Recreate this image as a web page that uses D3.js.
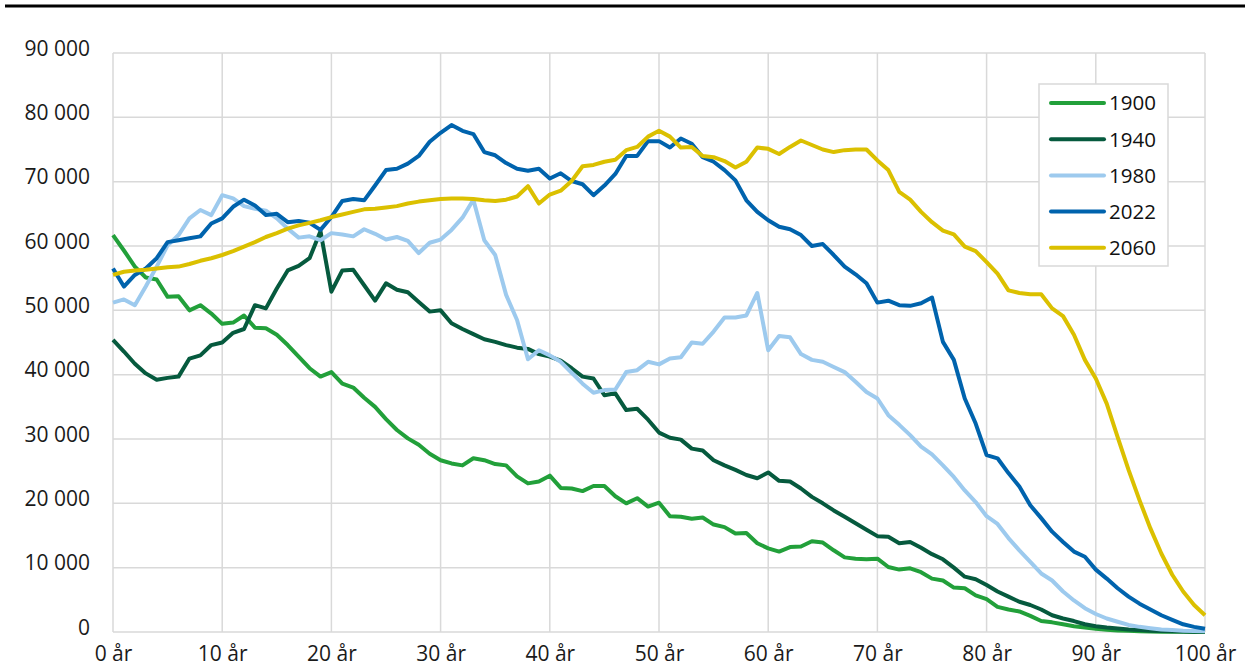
<!DOCTYPE html>
<html>
<head>
<meta charset="utf-8">
<script src="https://cdn.jsdelivr.net/npm/d3@7"></script>
<style>
  body { margin: 0; background: #fff; }
  svg { display: block; font-family: "Open Sans", "Noto Sans", sans-serif; }
</style>
</head>
<body>
<svg width="1250" height="672"></svg>
<script>
// ages 0..100, population in persons
var ages = d3.range(0, 101);
var years = ["1900", "1940", "1980", "2022", "2060"];
var colors = ["#22a03a", "#065a3e", "#9dcaee", "#0063ad", "#dbc000"];

var pop1900 = [61.7, 59.3, 56.8, 55.1, 54.8, 52.1, 52.2, 50.0, 50.8, 49.5,
    47.9, 48.1, 49.2, 47.3, 47.2, 46.2, 44.6, 42.8, 41.0, 39.7,
    40.4, 38.6, 38.0, 36.4, 35.0, 33.1, 31.4, 30.1, 29.1, 27.7,
    26.7, 26.2, 25.9, 27.0, 26.7, 26.1, 25.9, 24.2, 23.1, 23.4,
    24.3, 22.4, 22.3, 21.9, 22.7, 22.7, 21.1, 20.0, 20.8, 19.5,
    20.1, 18.0, 17.9, 17.6, 17.8, 16.7, 16.3, 15.3, 15.4, 13.8,
    13.0, 12.5, 13.2, 13.3, 14.1, 13.9, 12.7, 11.6, 11.4, 11.3,
    11.4, 10.1, 9.7, 9.9, 9.3, 8.3, 8.0, 6.9, 6.8, 5.7,
    5.1, 3.9, 3.5, 3.2, 2.5, 1.7, 1.5, 1.2, 0.9, 0.7,
    0.5, 0.35, 0.25, 0.18, 0.12, 0.08, 0.05, 0.03, 0.02, 0.01, 0.01];

var pop1940 = [45.4, 43.6, 41.7, 40.2, 39.2, 39.5, 39.7, 42.5, 43.0, 44.6,
    45.0, 46.5, 47.1, 50.8, 50.3, 53.4, 56.2, 56.9, 58.1, 62.3,
    52.9, 56.2, 56.3, 53.9, 51.5, 54.2, 53.2, 52.8, 51.3, 49.8,
    50.0, 48.0, 47.1, 46.3, 45.5, 45.1, 44.6, 44.2, 44.0, 43.2,
    42.8, 42.2, 41.0, 39.7, 39.4, 36.8, 37.1, 34.5, 34.7, 33.0,
    31.0, 30.2, 29.9, 28.5, 28.2, 26.7, 25.9, 25.2, 24.4, 23.9,
    24.8, 23.5, 23.4, 22.3, 21.0, 20.0, 18.9, 17.9, 16.9, 15.9,
    14.9, 14.8, 13.8, 14.0, 13.1, 12.1, 11.3, 10.0, 8.6, 8.2,
    7.3, 6.3, 5.5, 4.7, 4.2, 3.5, 2.6, 2.1, 1.7, 1.2,
    0.9, 0.7, 0.55, 0.4, 0.3, 0.2, 0.15, 0.1, 0.06, 0.04, 0.02];

var pop1980 = [51.2, 51.7, 50.8, 53.7, 56.8, 60.1, 61.7, 64.3, 65.6, 64.8,
    67.9, 67.4, 66.2, 65.8, 65.5, 64.3, 62.7, 61.3, 61.5, 60.9,
    62.0, 61.8, 61.5, 62.6, 61.9, 61.0, 61.4, 60.8, 58.9, 60.5,
    61.0, 62.5, 64.4, 67.2, 60.9, 58.6, 52.4, 48.5, 42.4, 43.8,
    43.0, 42.0, 40.3, 38.6, 37.2, 37.6, 37.7, 40.4, 40.7, 42.0,
    41.6, 42.5, 42.7, 45.0, 44.8, 46.7, 48.9, 48.9, 49.2, 52.7,
    43.8, 46.0, 45.8, 43.2, 42.3, 42.0, 41.2, 40.4, 38.9, 37.3,
    36.3, 33.7, 32.2, 30.6, 28.8, 27.6, 25.9, 24.1, 22.0, 20.2,
    18.0, 16.8, 14.6, 12.7, 10.9, 9.1, 8.0, 6.3, 4.9, 3.7,
    2.8, 2.1, 1.6, 1.1, 0.8, 0.6, 0.4, 0.3, 0.2, 0.15, 0.1];

var pop2022 = [56.5, 53.7, 55.5, 56.5, 58.1, 60.6, 60.9, 61.2, 61.5, 63.5,
    64.3, 66.1, 67.2, 66.3, 64.8, 65.0, 63.7, 63.9, 63.6, 62.5,
    64.5, 67.0, 67.3, 67.1, 69.4, 71.8, 72.0, 72.8, 74.0, 76.2,
    77.6, 78.8, 77.9, 77.4, 74.6, 74.1, 72.9, 72.0, 71.7, 72.0,
    70.5, 71.3, 70.1, 69.6, 67.9, 69.4, 71.2, 74.0, 74.0, 76.3,
    76.3, 75.3, 76.7, 75.9, 73.8, 73.1, 71.8, 70.2, 67.1, 65.3,
    64.0, 63.0, 62.6, 61.7, 60.0, 60.3, 58.6, 56.8, 55.6, 54.2,
    51.2, 51.5, 50.8, 50.7, 51.1, 52.0, 45.1, 42.3, 36.3, 32.4,
    27.5, 27.0, 24.7, 22.6, 19.7, 17.7, 15.6, 14.0, 12.5, 11.7,
    9.7, 8.3, 6.8, 5.5, 4.4, 3.5, 2.6, 1.9, 1.2, 0.8, 0.5];

var pop2060 = [55.5, 56.0, 56.2, 56.3, 56.5, 56.7, 56.8, 57.2, 57.7, 58.1,
    58.6, 59.2, 59.9, 60.6, 61.4, 62.0, 62.7, 63.2, 63.6, 64.0,
    64.5, 64.9, 65.3, 65.7, 65.8, 66.0, 66.2, 66.6, 66.9, 67.1,
    67.3, 67.4, 67.4, 67.3, 67.1, 67.0, 67.2, 67.7, 69.3, 66.6,
    68.0, 68.6, 70.1, 72.4, 72.6, 73.1, 73.4, 74.9, 75.4, 77.0,
    77.9, 77.0, 75.3, 75.4, 74.0, 73.8, 73.2, 72.2, 73.1, 75.3,
    75.1, 74.3, 75.4, 76.4, 75.7, 75.0, 74.6, 74.9, 75.0, 75.0,
    73.3, 71.8, 68.4, 67.2, 65.3, 63.7, 62.4, 61.8, 59.9, 59.2,
    57.5, 55.7, 53.1, 52.7, 52.5, 52.5, 50.3, 49.1, 46.2, 42.3,
    39.4, 35.5, 30.3, 25.2, 20.5, 16.1, 12.2, 8.9, 6.3, 4.2, 2.6];

var yTicks = [0, 10000, 20000, 30000, 40000, 50000, 60000, 70000, 80000, 90000];
var xTicks = [0, 10, 20, 30, 40, 50, 60, 70, 80, 90, 100];

var series = [pop1900, pop1940, pop1980, pop2022, pop2060].map(function (vals, i) {
    return { name: years[i], color: colors[i], values: vals.map(function (v, j) { return { age: ages[j], pop: v * 1000 }; }) };
});

var svg = d3.select("svg");
var margin = { left: 113, right: 45, top: 53, bottom: 40 };
var width = 1250, height = 672;

var x = d3.scaleLinear().domain([0, 100]).range([margin.left, width - margin.right]);
var y = d3.scaleLinear().domain([0, 90000]).range([height - margin.bottom, margin.top]);

// black rule at the top
svg.append("line")
    .attr("x1", 5).attr("x2", 1245)
    .attr("y1", 6).attr("y2", 6)
    .attr("stroke", "#000").attr("stroke-width", 3);

// grid
var grid = svg.append("g");
grid.selectAll(".h").data(yTicks).enter().append("line")
    .attr("x1", x(0)).attr("x2", x(100))
    .attr("y1", function (d) { return y(d); }).attr("y2", function (d) { return y(d); })
    .attr("stroke", "#d9d9d9").attr("stroke-width", 1.5);
grid.selectAll(".v").data(xTicks).enter().append("line")
    .attr("y1", y(0)).attr("y2", y(90000))
    .attr("x1", function (d) { return x(d); }).attr("x2", function (d) { return x(d); })
    .attr("stroke", "#d9d9d9").attr("stroke-width", 1.5);

// axes (text only)
var fmt = function (d) { return d3.format(",")(d).replace(/,/g, " "); };

var yAxis = svg.append("g")
    .attr("transform", "translate(" + (margin.left - 20) + ",0)")
    .call(d3.axisLeft(y).tickValues(yTicks).tickFormat(fmt).tickSize(0));
yAxis.select(".domain").remove();
yAxis.selectAll("text").attr("font-size", 21).attr("fill", "#1a1a1a")
    .attr("font-family", "'Open Sans', sans-serif").attr("dy", "0.1em");

var xAxis = svg.append("g")
    .attr("transform", "translate(0," + (y(0) + 11) + ")")
    .call(d3.axisBottom(x).tickValues(xTicks).tickFormat(function (d) { return d + " år"; }).tickSize(0));
xAxis.select(".domain").remove();
xAxis.selectAll("text").attr("font-size", 21).attr("fill", "#1a1a1a")
    .attr("font-family", "'Open Sans', sans-serif");

// lines
var line = d3.line()
    .x(function (d) { return x(d.age); })
    .y(function (d) { return y(d.pop); });

svg.append("g").selectAll("path")
    .data(series)
    .enter().append("path")
    .attr("d", function (d) { return line(d.values); })
    .attr("fill", "none")
    .attr("stroke", function (d) { return d.color; })
    .attr("stroke-width", 4)
    .attr("stroke-linejoin", "round");

// legend
var legend = svg.append("g").attr("transform", "translate(1039,84)");
legend.append("rect")
    .attr("width", 129).attr("height", 182)
    .attr("fill", "#fff").attr("stroke", "#d9d9d9").attr("stroke-width", 1.5);
var item = legend.selectAll(".item").data(series).enter().append("g")
    .attr("transform", function (d, i) { return "translate(0," + (19 + i * 36.2) + ")"; });
item.append("line")
    .attr("x1", 12).attr("x2", 65)
    .attr("stroke", function (d) { return d.color; })
    .attr("stroke-width", 4).attr("stroke-linecap", "round");
item.append("text")
    .attr("x", 70).attr("dy", "0.36em")
    .attr("font-size", 20.5).attr("fill", "#111")
    .text(function (d) { return d.name; });
</script>
</body>
</html>
